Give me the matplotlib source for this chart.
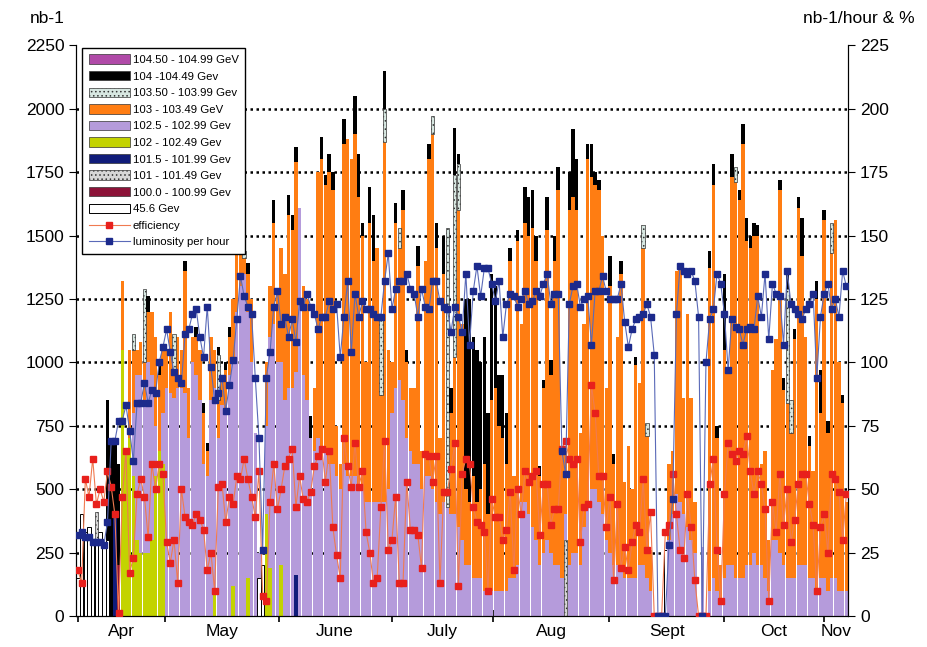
import numpy as np
import matplotlib
matplotlib.use("Agg")
import matplotlib.pyplot as plt
from matplotlib.patches import Patch
from matplotlib.lines import Line2D

plt.rcParams['font.family'] = ['Liberation Sans Narrow', 'Liberation Sans', 'DejaVu Sans']
plt.rcParams['hatch.linewidth'] = 0.6

N_DAYS = 209

# daily integrated luminosity (nb-1) per beam energy, one value per day of the run
lum_1025 = [
    0, 0, 0, 0, 0, 0, 0, 0, 0, 0,
    0, 0, 0, 0, 0, 250, 650, 700, 600, 750,
    650, 200, 0, 200, 900, 880, 860, 900, 900, 880,
    700, 1000, 950, 850, 600, 550, 850, 800, 700, 830,
    820, 950, 880, 1200, 1300, 1350, 1050, 1000, 720, 100,
    0, 350, 910, 1150, 1000, 800, 850, 900, 900, 800,
    1610, 950, 850, 700, 650, 700, 650, 650, 600, 600,
    550, 500, 600, 550, 550, 550, 500, 500, 450, 450,
    450, 450, 450, 450, 500, 800, 900, 930, 850, 700,
    650, 600, 600, 500, 550, 550, 500, 450, 400, 450,
    430, 400, 400, 350, 300, 200, 200, 150, 150, 150,
    100, 100, 100, 100, 100, 100, 100, 150, 150, 200,
    450, 450, 400, 350, 300, 200, 250, 300, 250, 200,
    200, 150, 100, 200, 250, 250, 200, 350, 450, 500,
    500, 450, 400, 300, 250, 200, 200, 200, 150, 150,
    150, 150, 200, 200, 150, 100, 0, 0, 0, 0,
    300, 400, 480, 450, 400, 350, 300, 250, 0, 270,
    0, 100, 150, 100, 50, 150, 200, 200, 150, 150,
    150, 200, 200, 250, 200, 200, 150, 100, 300, 300,
    250, 200, 150, 150, 150, 200, 200, 200, 150, 150,
    100, 150, 150, 100, 150, 150, 100, 100, 100,
]

lum_103 = [
    0, 0, 0, 0, 0, 0, 0, 0, 0, 0,
    0, 0, 270, 0, 350, 250, 100, 130, 150, 200,
    250, 350, 300, 250, 150, 320, 100, 200, 150, 480,
    200, 100, 150, 200, 200, 100, 250, 150, 150, 100,
    150, 150, 250, 230, 150, 60, 150, 250, 0, 0,
    0, 250, 200, 400, 265, 450, 500, 680, 620, 830,
    0, 350, 400, 0, 250, 1050, 1150, 1050, 1150, 1080,
    200, 100, 1260, 1330, 1250, 1350, 1150, 1000, 550, 1100,
    950, 1000, 420, 1420, 550, 200, 650, 520, 750, 300,
    250, 300, 780, 150, 850, 1250, 1400, 1000, 300, 900,
    0, 400, 620, 1250, 850, 300, 250, 400, 300, 350,
    500, 300, 750, 800, 650, 600, 500, 1250, 400, 1280,
    700, 1100, 1100, 1180, 1100, 350, 650, 1220, 700, 1200,
    1480, 500, 250, 1400, 1400, 1350, 520, 800, 1350, 1230,
    1200, 1230, 1100, 600, 1050, 400, 900, 1150, 380, 520,
    350, 840, 720, 1250, 560, 160, 0, 0, 0, 0,
    300, 250, 880, 920, 460, 840, 560, 200, 0, 0,
    0, 1270, 1550, 600, 150, 900, 770, 1530, 1560, 1490,
    1710, 1280, 1250, 1250, 1300, 400, 500, 200, 670, 790,
    1430, 690, 690, 570, 940, 1410, 1220, 900, 520, 420,
    1150, 650, 1410, 620, 1280, 1410, 900, 740, 350,
]

lum_104 = [
    0, 0, 0, 0, 0, 0, 0, 0, 550, 700,
    300, 400, 0, 0, 0, 0, 0, 0, 0, 60,
    0, 0, 40, 0, 0, 0, 0, 0, 0, 40,
    0, 0, 40, 0, 40, 30, 0, 0, 30, 0,
    30, 40, 0, 0, 0, 0, 40, 0, 0, 0,
    0, 0, 0, 90, 0, 0, 0, 80, 60, 60,
    0, 0, 0, 90, 0, 0, 90, 40, 70, 70,
    0, 0, 100, 0, 0, 150, 170, 50, 0, 140,
    180, 0, 0, 150, 0, 0, 80, 0, 80, 50,
    0, 0, 80, 0, 0, 60, 0, 100, 0, 150,
    0, 100, 185, 40, 0, 750, 800, 550, 600, 500,
    500, 400, 500, 400, 200, 250, 200, 50, 0, 40,
    0, 140, 150, 150, 100, 40, 30, 130, 60, 100,
    90, 0, 0, 150, 270, 200, 0, 0, 60, 130,
    50, 40, 0, 0, 120, 40, 0, 50, 0, 0,
    0, 30, 0, 0, 0, 0, 0, 0, 0, 0,
    0, 0, 0, 0, 0, 0, 0, 0, 0, 0,
    0, 70, 80, 50, 0, 300, 0, 90, 0, 40,
    80, 90, 50, 50, 40, 0, 0, 0, 0, 0,
    40, 50, 60, 0, 40, 40, 150, 0, 40, 0,
    70, 170, 40, 50, 0, 0, 0, 30, 0,
]

# rarer energies: day of run and value
lum_102_days = [12, 13, 14, 15, 16, 17, 18, 19, 20, 21, 22, 23, 37, 42, 46, 51, 52, 55]
lum_102_vals = [1050, 650, 700, 550, 300, 250, 250, 250, 300, 550, 650, 600, 100, 120, 150, 400, 190, 200]

lum_1035_days = [15, 18, 26, 38, 45, 82, 83, 87, 96, 100, 102, 103, 153, 154, 178, 192, 193, 204]
lum_1035_vals = [60, 290, 150, 180, 30, 320, 130, 80, 70, 1100, 720, 180, 90, 50, 60, 450, 130, 120]

lum_456_days = [0, 1, 2, 3, 4, 5, 6, 7, 8, 49, 50, 159]
lum_456_vals = [150, 400, 330, 350, 300, 300, 330, 290, 300, 150, 200, 260]

lum_101_days = [5, 132]
lum_101_vals = [110, 300]

lum_1015_days = [10, 59]
lum_1015_vals = [400, 160]

lum_100_days = [11]
lum_100_vals = [200]

lum_1045_days = []
lum_1045_vals = []

# efficiency (%) and luminosity per hour (nb-1/hour), right axis
efficiency = [
    18, 13, 54, 47, 62, 44, 50, 45, 57, 51,
    40, 1, 47, 65, 17, 23, 48, 54, 47, 31,
    60, 50, 60, 56, 29, 21, 30, 13, 50, 39,
    37, 36, 40, 38, 34, 18, 25, 10, 51, 52,
    37, 47, 44, 55, 54, 62, 54, 47, 39, 57,
    8, 6, 45, 60, 42,
    50, 59, 62, 66, 43, 55, 46, 45, 49, 59,
    63, 66, 53, 65, 35, 24, 15, 70, 59, 51,
    68, 51, 57, 33, 25, 13, 15, 43, 69, 26,
    30, 47, 13, 13, 53, 34, 34, 32, 19, 64,
    63, 53, 63, 13, 49, 49, 58, 68, 12, 56,
    62, 60, 43, 37, 36, 33, 10, 46, 39, 39,
    30, 34, 49, 18, 50, 40, 57, 53, 55, 57,
    32, 52, 52, 36, 42, 42, 66, 69, 62, 60,
    62, 29, 43, 44, 91, 80, 55, 55, 35, 47,
    14, 44, 19, 27, 18, 29, 36, 33, 54, 26,
    41, 0,
    0, 0, 33, 36, 56, 40, 26, 23, 48, 35, 14, 0, 0, 0,
    52, 62, 26, 6, 48, 68, 64, 61, 65, 64,
    71, 57, 48, 57, 52, 42, 6, 45, 33, 56,
    36, 50, 29, 38, 52, 56, 56, 44, 36, 10,
    35, 40, 25, 56, 54, 49, 30, 48,
]

lumi_per_hour = [
    32, 33, 31, 31, 29, 29, 29, 28, 37, 69,
    69, 77, 77, 83, 73, 61, 84, 84, 92, 84,
    89, 88, 100, 106, 113, 104, 96, 94, 92, 111,
    113, 119, 121, 110, 102, 122, 98, 85, 88, 94,
    81, 91, 101, 117, 134, 126, 122, 119, 94, 70,
    26, 94, 104, 122, 128,
    115, 118, 110, 117, 108, 124, 122, 127, 122, 119,
    113, 118, 118, 124, 121, 123, 102, 118, 132, 104,
    127, 118, 124, 121, 121, 119, 118, 118, 132, 143,
    121, 129, 132, 132, 135, 129, 127, 118, 129, 122,
    121, 132, 132, 124, 122, 121, 112, 122, 118, 112,
    135, 107, 128, 138, 126, 137, 137, 131, 124,
    132, 110, 123, 127, 126, 122, 125, 128, 123, 124,
    128, 126, 131, 135, 123, 127, 127, 65, 56, 123,
    130, 131, 122, 125, 126, 107, 128, 128, 134, 128,
    125, 125, 125, 131, 116, 106, 113, 117, 118, 119,
    123, 118, 103,
    0, 0, 0, 28, 46, 119, 138, 136, 135, 136, 132, 118, 0, 100,
    117, 121, 135, 131, 119, 97, 117, 114, 113, 107,
    113, 114, 113, 126, 118, 135, 109, 131, 127, 126,
    107, 136, 123, 121, 119, 117, 121, 123, 127, 94,
    118, 127, 131, 121, 125, 118, 136,
    130,
]

months = ['Apr', 'May', 'June', 'July', 'Aug', 'Sept', 'Oct', 'Nov']
month_start = [0, 23.5, 54.3, 84.9, 112.4, 143.8, 174.9, 201.9]


def spread(days, vals):
    a = np.zeros(N_DAYS)
    a[np.array(days, dtype=int)] = vals
    return a


# stacking order bottom -> top, with legend label and style
series = [
    ('45.6 Gev', spread(lum_456_days, lum_456_vals),
     dict(facecolor='white', edgecolor='black', linewidth=0.7)),
    ('100.0 - 100.99 Gev', spread(lum_100_days, lum_100_vals),
     dict(facecolor='#8c1238', edgecolor='none')),
    ('101 - 101.49 Gev', spread(lum_101_days, lum_101_vals),
     dict(facecolor='#d6d6d6', edgecolor='#333333', hatch='....', linewidth=0.5)),
    ('101.5 - 101.99 Gev', spread(lum_1015_days, lum_1015_vals),
     dict(facecolor='#101c7a', edgecolor='none')),
    ('102 - 102.49 Gev', spread(lum_102_days, lum_102_vals),
     dict(facecolor='#c3d300', edgecolor='none')),
    ('102.5 - 102.99 Gev', np.array(lum_1025, dtype=float),
     dict(facecolor='#b59bdb', edgecolor='none')),
    ('103 - 103.49 GeV', np.array(lum_103, dtype=float),
     dict(facecolor='#ff7d12', edgecolor='none')),
    ('103.50 - 103.99 Gev', spread(lum_1035_days, lum_1035_vals),
     dict(facecolor='#d7e7e1', edgecolor='#333333', hatch='....', linewidth=0.5)),
    ('104 -104.49 Gev', np.array(lum_104, dtype=float),
     dict(facecolor='black', edgecolor='none')),
    ('104.50 - 104.99 GeV', spread(lum_1045_days, lum_1045_vals),
     dict(facecolor='#b04aa8', edgecolor='none')),
]

fig = plt.figure(figsize=(9.28, 6.47), dpi=100)
ax = fig.add_axes([0.082, 0.048, 0.832, 0.882])
days = np.arange(N_DAYS)

# dotted reference lines behind the bars
for y in range(250, 2001, 250):
    ax.axhline(y, color='black', lw=1.8, ls=(0, (1, 1.4)), zorder=1)

bottom = np.zeros(N_DAYS)
for label, vals, style in series:
    m = vals > 0
    if m.any():
        ax.bar(days[m], vals[m], width=0.92, bottom=bottom[m], zorder=2, **style)
    bottom += vals

ax.set_xlim(-0.5, N_DAYS - 0.5)
ax.set_ylim(0, 2250)
ax.set_yticks(np.arange(0, 2251, 250))
ax.tick_params(axis='y', direction='out', length=5, labelsize=12.5)
ax.spines['top'].set_visible(False)

mids = [(a + b) / 2 for a, b in zip(month_start, month_start[1:] + [N_DAYS - 0.5])]
ax.set_xticks(month_start)
ax.set_xticklabels([])
ax.set_xticks(mids, minor=True)
ax.set_xticklabels(months, minor=True)
ax.tick_params(axis='x', which='major', direction='inout', length=9, width=1.2)
ax.tick_params(axis='x', which='minor', length=0, labelsize=12.5, pad=6)

ax2 = ax.twinx()
ax2.set_ylim(0, 225)
ax2.set_yticks(np.arange(0, 226, 25))
ax2.tick_params(axis='y', direction='out', length=5, labelsize=12.5)
ax2.spines['top'].set_visible(False)

ax2.plot(days, efficiency, color='#f07a50', lw=0.8, marker='s', ms=4.2,
         mfc='#e8201c', mec='#e8201c', zorder=3)
ax2.plot(days, lumi_per_hour, color='#5a6ab8', lw=0.8, marker='s', ms=4.2,
         mfc='#1c2a8c', mec='#1c2a8c', zorder=4)

handles, labels = [], []
for label, vals, style in reversed(series):
    st = dict(style)
    if st.get('edgecolor') == 'none':
        st['edgecolor'] = '#333333'
        st['linewidth'] = 0.5
    handles.append(Patch(**st))
    labels.append(label)
handles.append(Line2D([], [], color='#f07a50', lw=0.8, marker='s', ms=4,
                      mfc='#e8201c', mec='#e8201c'))
labels.append('efficiency')
handles.append(Line2D([], [], color='#5a6ab8', lw=0.8, marker='s', ms=4,
                      mfc='#1c2a8c', mec='#1c2a8c'))
labels.append('luminosity per hour')

leg = ax2.legend(handles, labels, loc='upper left', bbox_to_anchor=(0.008, 0.995),
                 fontsize=8.2, frameon=True, fancybox=False, edgecolor='black',
                 framealpha=1, handlelength=3.6, handleheight=0.9,
                 labelspacing=0.52, borderpad=0.55, handletextpad=0.3,
                 borderaxespad=0)
leg.get_frame().set_linewidth(1.0)
leg.set_zorder(10)

fig.text(0.032, 0.972, 'nb-1', fontsize=12.5, ha='left', va='center')
fig.text(0.986, 0.972, 'nb-1/hour & %', fontsize=12.5, ha='right', va='center')

fig.savefig('out.png', dpi=100)
